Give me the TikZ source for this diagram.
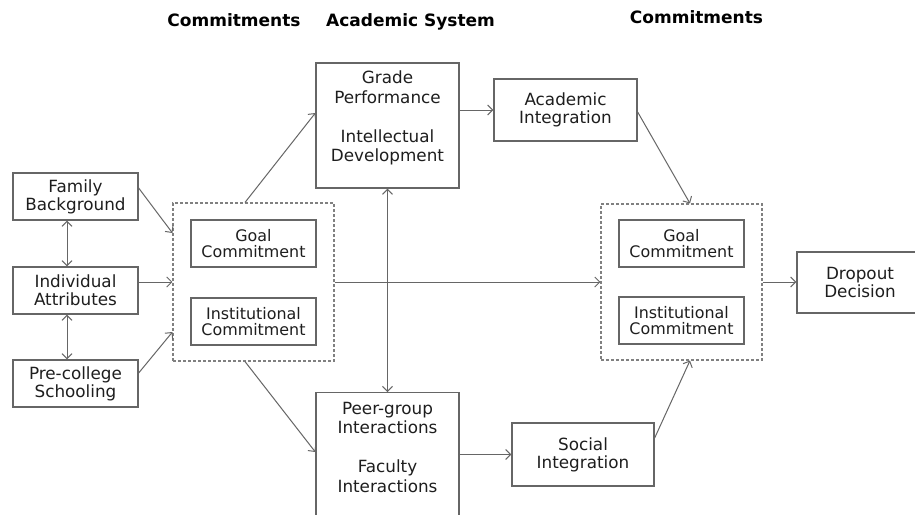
\documentclass[tikz,border=0pt]{standalone}
\usepackage{fontspec}
\setmainfont{DejaVu Sans}
\usetikzlibrary{arrows.meta,calc}
\definecolor{linegray}{HTML}{666666}
\definecolor{dashgray}{HTML}{808080}
\definecolor{txtgray}{HTML}{1E1E1E}
\tikzset{
  box/.style={draw=linegray, line width=1.3pt, inner sep=0pt, align=center, text=txtgray,
    font=\fontsize{16.8}{17.8}\selectfont},
  innerbox/.style={box, minimum width=125pt, minimum height=47pt, font=\fontsize{15.9}{16.5}\selectfont},
  dashbox/.style={draw=dashgray, line width=1.1pt, dash pattern=on 3pt off 2pt, inner sep=0pt},
  txt/.style={inner sep=0pt, align=center, text=txtgray, font=\fontsize{16.8}{19.5}\selectfont},
  head/.style={inner sep=0pt, anchor=base, font=\fontsize{17}{20}\selectfont\bfseries},
  conn/.style={draw=linegray, line width=1pt, -{Straight Barb[length=5pt,width=10pt]}},
  dconn/.style={draw=linegray, line width=1pt, {Straight Barb[length=5pt,width=10pt]}-{Straight Barb[length=5pt,width=10pt]}}
}
\begin{document}
\begin{tikzpicture}[x=1pt,y=-1pt]
\clip (0,0) rectangle (915,514);
\fill[white] (0,0) rectangle (915,514);
% headers
\node[head] (h1) at (234,27) {Commitments};
\node[head] (h2) at (410.5,27) {Academic System};
\node[head] (h3) at (696.5,23.5) {Commitments};
% left column
\node[box, minimum width=125pt, minimum height=47pt] (fam) at (75.5,196.5) {Family\\Background};
\node[box, minimum width=125pt, minimum height=47pt] (ind) at (75.5,290.5) {Individual\\Attributes};
\node[box, minimum width=125pt, minimum height=47pt] (pre) at (75.5,383.5) {Pre-college\\Schooling};
% left commitments
\node[dashbox, minimum width=161pt, minimum height=158pt] (dashL) at (253.5,282) {};
\node[innerbox] (goalL) at (253.5,243.5) {Goal\\Commitment};
\node[innerbox] (instL) at (253.5,321.5) {Institutional\\Commitment};
% academic system
\node[box, minimum width=143pt, minimum height=125pt] (grade) at (387.5,125.5) {};
\node[txt] (gradetxt) at (387.5,118) {Grade\\Performance\\[19.5pt]Intellectual\\Development};
\node[box, minimum width=143pt, minimum height=160pt, anchor=north] (peer) at (387.5,392) {};
\node[txt] (peertxt) at (387.5,447) {Peer-group\\Interactions\\[19.5pt]Faculty\\Interactions};
% integration
\node[box, minimum width=143pt, minimum height=62pt] (acad) at (565.5,110) {Academic\\Integration};
\node[box, minimum width=142pt, minimum height=63pt] (soc) at (583,454.5) {Social\\Integration};
% right commitments
\node[dashbox, minimum width=161pt, minimum height=156pt] (dashR) at (681.5,282) {};
\node[innerbox] (goalR) at (681.5,243.5) {Goal\\Commitment};
\node[innerbox] (instR) at (681.5,320.5) {Institutional\\Commitment};
% dropout
\node[box, minimum width=126pt, minimum height=61pt] (drop) at (860,282.5) {Dropout\\Decision};
% connectors
\draw[conn] ([yshift=8.5pt]fam.east) -- ([yshift=49pt]dashL.west);
\draw[conn] (dashL.west -| ind.east) -- (dashL.west);
\draw[conn] ([yshift=10.5pt]pre.east) -- ([yshift=-50pt]dashL.west);
\draw[dconn] ([xshift=-8.5pt]fam.south) -- ([xshift=-8.5pt]ind.north);
\draw[dconn] ([xshift=-8.5pt]ind.south) -- ([xshift=-8.5pt]pre.north);
\draw[conn] ([xshift=-8.5pt]dashL.north) -- ([yshift=12.5pt]grade.west);
\draw[conn] ([xshift=-8.5pt]dashL.south) -- ([yshift=-60pt]peer.north west);
\draw[dconn] (grade.south) -- (peer.north);
\draw[conn] (acad.west -| grade.east) -- (acad.west);
\draw[conn] ([yshift=-2pt]acad.east) -- ([xshift=8.5pt]dashR.north);
\draw[conn] (soc.west -| peer.east) -- (soc.west);
\draw[conn] ([yshift=16.5pt]soc.east) -- ([xshift=8.5pt]dashR.south);
\draw[conn] (dashL.east) -- (dashR.west);
\draw[conn] (dashR.east) -- (dashR.east -| drop.west);
\end{tikzpicture}
\end{document}
